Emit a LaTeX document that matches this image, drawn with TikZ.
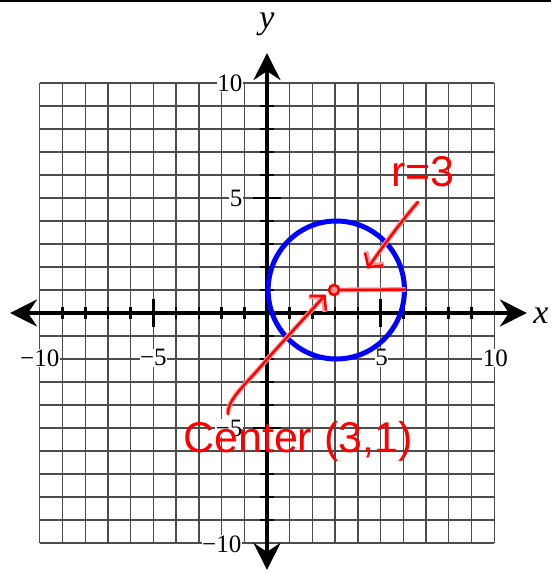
\documentclass[tikz,border=0pt]{standalone}
\usepackage{fontspec}
\setmainfont{Liberation Serif}
\newfontfamily\penfont{Liberation Sans}
\usetikzlibrary{arrows.meta}
\begin{document}
\begin{tikzpicture}[x=22.72pt,y=23pt,
  gridline/.style={draw=black!70, line width=1.4pt},
  axisline/.style={draw=black, line width=3.5pt,
    {Stealth[length=27pt,width=27pt,inset=9pt]}-{Stealth[length=27pt,width=27pt,inset=9pt]}},
  tickmark/.style={draw=black, line width=2.6pt},
  numlab/.style={font=\fontsize{25}{25}\selectfont, fill=white, inner sep=0.5pt},
  axislab/.style={font=\fontsize{34}{34}\selectfont\itshape, inner sep=0pt},
  bluecircle/.style={draw={rgb,255:red,0;green,0;blue,255}, line width=5pt},
  redpen/.style={draw={rgb,255:red,255;green,0;blue,0}, line width=2.4pt, line cap=round, line join=round,
    preaction={draw={rgb,255:red,255;green,150;blue,150}, line width=4.8pt}},
  pentext/.style={text={rgb,255:red,255;green,0;blue,0}, font=\penfont\fontsize{43}{43}\selectfont, inner sep=0pt}
]
\useasboundingbox (-267pt,-260pt) rectangle (284pt,313pt);
% top border
\coordinate (bl) at (-267pt,312pt);
\coordinate (br) at (284pt,312pt);
\draw[line width=2.2pt] (bl) -- (br);
% grid
\foreach \k in {-10,...,10}{
  \draw[gridline] (\k,-10) -- (\k,10);
  \draw[gridline] (-10,\k) -- (10,\k);
}
% axes
\coordinate (xleft) at (-11.31,0);
\coordinate (xright) at (11.44,0);
\coordinate (ytop) at (0,11.3);
\coordinate (ybot) at (0,-11.17);
\draw[axisline] (xleft) -- (xright);
\draw[axisline] (ybot) -- (ytop);
% ticks
\foreach \k in {-9,...,-6,-4,-3,-2,-1,1,2,3,4,6,7,8,9}{
  \draw[tickmark] (\k,-0.27) -- (\k,0.27);
  \draw[tickmark] (-0.3,\k) -- (0.3,\k);
}
\foreach \k in {-5,5}{
  \draw[tickmark] (\k,-0.6) -- (\k,0.6);
  \draw[tickmark] (-0.62,\k) -- (0.62,\k);
}
% number labels
\node[numlab] (xm10) at (-10,-1.95) {−10};
\node[numlab] (xm5) at (-5,-1.95) {−5};
\node[numlab] (xp5) at (5.05,-1.95) {5};
\node[numlab] (xp10) at (10.05,-1.95) {10};
\node[numlab, anchor=east] (yp10) at (-1.05,10) {10};
\node[numlab, anchor=east] (yp5) at (-1.05,5) {5};
\node[numlab, anchor=east] (ym5) at (-1.05,-5) {−5};
\node[numlab, anchor=east] (ym10) at (-1.1,-10.05) {−10};
% axis names
\node[axislab] (ylab) at (0,12.57) {y};
\node[axislab] (xlab) at (12.06,-0.13) {x};
% circle
\draw[bluecircle] (3.05,1) circle [x radius=3, y radius=3];
% red annotations
\coordinate (ctr) at (2.95,1);
\coordinate (redge) at (6.1,1.02);
\draw[redpen] (ctr) -- (redge);
\node[circle, draw={rgb,255:red,255;green,0;blue,0}, fill={rgb,255:red,255;green,150;blue,150}, line width=2.6pt, minimum size=10pt, inner sep=0pt] (dot) at (ctr) {};
\node[pentext] (rlab) at (6.87,6.13) {r=3};
\node[pentext] (clab) at (1.36,-5.57) {Center (3,1)};
\coordinate (rstart) at (6.65,4.83);
\coordinate (rtip) at (4.42,1.93);
\draw[redpen, -{Straight Barb[length=10pt,width=22pt]}] (rstart) .. controls (6.0,4.1) and (5.1,2.9) .. (rtip);
\coordinate (cstart) at (-1.72,-4.4);
\coordinate (cmid) at (0.1,-1.9);
\coordinate (ctip) at (2.58,0.8);
\draw[redpen, -{Straight Barb[length=10pt,width=22pt]}] (cstart) .. controls (-1.72,-3.7) and (-1.0,-3.2) .. (cmid) -- (ctip);
\end{tikzpicture}
\end{document}
